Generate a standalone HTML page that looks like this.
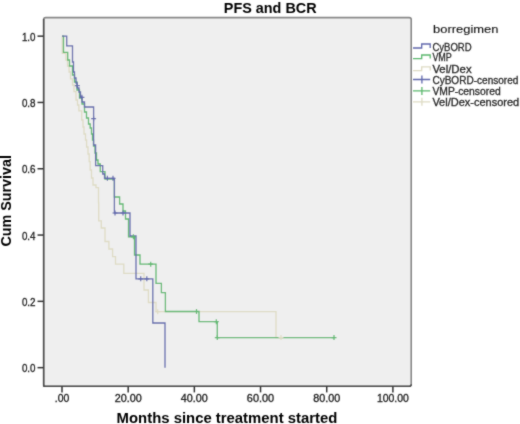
<!DOCTYPE html>
<html><head><meta charset="utf-8">
<style>
html,body{margin:0;padding:0;background:#fff;}
body{width:520px;height:424px;overflow:hidden;position:relative;}
svg{position:absolute;left:0;top:0;}
text{font-family:"Liberation Sans",sans-serif;}
</style></head><body>
<svg width="520" height="424" viewBox="0 0 520 424">
<defs><filter id="soft" x="0" y="0" width="520" height="424" filterUnits="userSpaceOnUse"><feConvolveMatrix order="3" kernelMatrix="1 3 1 3 20 3 1 3 1" divisor="36" edgeMode="duplicate" preserveAlpha="false"/></filter></defs>
<rect width="520" height="424" fill="#fff"/>
<g filter="url(#soft)">
<rect x="43.7" y="17.6" width="367.5" height="368.6" rx="2" fill="#efefef" stroke="#858585" stroke-width="1.6"/>
<path d="M43.7,19 V386.2 H409.2 Q411.2,386.2 411.2,384.2" fill="none" stroke="#4c4c4c" stroke-width="1.6" stroke-linejoin="round"/>
<text x="223.8" y="12.6" font-size="15" font-weight="bold" fill="#000" textLength="92.8" lengthAdjust="spacingAndGlyphs">PFS and BCR</text>
<g stroke="#333" stroke-width="1.5"><line x1="37.5" y1="36.15" x2="43.6" y2="36.15"/><line x1="37.5" y1="102.45" x2="43.6" y2="102.45"/><line x1="37.5" y1="168.75" x2="43.6" y2="168.75"/><line x1="37.5" y1="235.05" x2="43.6" y2="235.05"/><line x1="37.5" y1="301.35" x2="43.6" y2="301.35"/><line x1="37.5" y1="367.65" x2="43.6" y2="367.65"/><line x1="62.00" y1="386" x2="62.00" y2="392.4"/><line x1="128.18" y1="386" x2="128.18" y2="392.4"/><line x1="194.36" y1="386" x2="194.36" y2="392.4"/><line x1="260.54" y1="386" x2="260.54" y2="392.4"/><line x1="326.72" y1="386" x2="326.72" y2="392.4"/><line x1="392.90" y1="386" x2="392.90" y2="392.4"/></g>
<g font-size="10" fill="#222" stroke="#222" stroke-width="0.3"><text x="21.9" y="40.85" textLength="13.6" lengthAdjust="spacingAndGlyphs">1.0</text><text x="21.9" y="107.15" textLength="13.6" lengthAdjust="spacingAndGlyphs">0.8</text><text x="21.9" y="173.45" textLength="13.6" lengthAdjust="spacingAndGlyphs">0.6</text><text x="21.9" y="239.75" textLength="13.6" lengthAdjust="spacingAndGlyphs">0.4</text><text x="21.9" y="306.05" textLength="13.6" lengthAdjust="spacingAndGlyphs">0.2</text><text x="21.9" y="372.35" textLength="13.6" lengthAdjust="spacingAndGlyphs">0.0</text></g>
<g font-size="10" fill="#222" stroke="#222" stroke-width="0.3"><text x="54.75" y="401.5" textLength="14.5" lengthAdjust="spacingAndGlyphs">.00</text><text x="114.68" y="401.5" textLength="27" lengthAdjust="spacingAndGlyphs">20.00</text><text x="180.86" y="401.5" textLength="27" lengthAdjust="spacingAndGlyphs">40.00</text><text x="246.89" y="401.5" textLength="27.3" lengthAdjust="spacingAndGlyphs">60.00</text><text x="313.22" y="401.5" textLength="27" lengthAdjust="spacingAndGlyphs">80.00</text><text x="376.90" y="401.5" textLength="32" lengthAdjust="spacingAndGlyphs">100.00</text></g>
<text x="116.6" y="422.7" font-size="14.5" font-weight="bold" fill="#000" textLength="220.8" lengthAdjust="spacingAndGlyphs">Months since treatment started</text>
<text transform="translate(11.3,246.6) rotate(-90)" font-size="14" font-weight="bold" fill="#000" textLength="91.6" lengthAdjust="spacingAndGlyphs">Cum Survival</text>
<g fill="none" stroke-width="1.3">
<path stroke="#dedbc4" d="M62,36.15 H62.3 V53.4 H65.9 V60 H67.5 V66 H69.1 V72 H70.5 V78.8 H72.5 V85 H74 V91.6 H76 V100 H77.5 V105 H78.9 V110.8 H81.7 V120 H83 V127 H84 V134 H85.5 V140 H86.6 V147 H88 V154 H89.2 V161.7 H90.2 V170 H91.5 V178 H93 V185 H96 V187.7 H98.5 V202.8 H98.7 V220.8 H101.3 V228 H105 V241.5 H108.9 V249 H112.6 V256.6 H115.5 V264.2 H123.8 V273.4 H144 V290 H148.4 V302.5 H156 V311.7 H276 V337.6 H283.4"/>
<path stroke="#5cb86e" d="M62,36.15 H63.5 V52.3 H67.7 V60 H69.5 V66 H72.5 V75 H74.5 V82 H77 V90 H79.5 V98 H82 V104 H84.5 V112 H86.5 V118 H88.5 V124 H90.2 V128 H91.5 V134 H92.5 V140 H93.5 V146 H95 V153 H96.5 V160 H98 V164 H100.3 V171.6 H105 V179.2 H114.4 V197 H119.6 V204 H123 V211 H125.5 V219 H128.5 V236.8 H134.5 V255 H140 V264.2 H156 V283.4 H161.4 V292.6 H165.4 V311.5 H199 V321.7 H217.3 V337.6 H334"/>
<path stroke="#6068ac" d="M62,36.15 H66.7 V45.9 H72.5 V62 H73.5 V72 H74.5 V78 H76 V83 H77.3 V88 H79 V92 H80.5 V97 H82 V102 H84.5 V107 H93.6 V145 H95.6 V165.7 H102.7 V174 H104.5 V178.3 H114.4 V213 H130 V236 H136 V278.8 H152.8 V323 H165 V367.65"/>
</g>
<g fill="none" stroke-width="1.2"><path stroke="#6068ac" d="M77.3,83.1 v5.0 M74.8,85.6 h5.0"/><path stroke="#6068ac" d="M81.9,94.8 v5.0 M79.4,97.3 h5.0"/><path stroke="#6068ac" d="M93.6,116.2 v5.0 M91.1,118.7 h5.0"/><path stroke="#6068ac" d="M107.4,175.8 v5.0 M104.9,178.3 h5.0"/><path stroke="#6068ac" d="M113,175.8 v5.0 M110.5,178.3 h5.0"/><path stroke="#6068ac" d="M115,210.5 v5.0 M112.5,213 h5.0"/><path stroke="#6068ac" d="M123,210.5 v5.0 M120.5,213 h5.0"/><path stroke="#6068ac" d="M140.7,276.3 v5.0 M138.2,278.8 h5.0"/><path stroke="#6068ac" d="M146.8,276.3 v5.0 M144.3,278.8 h5.0"/><path stroke="#5cb86e" d="M133.4,234.3 v5.0 M130.9,236.8 h5.0"/><path stroke="#5cb86e" d="M150.7,261.7 v5.0 M148.2,264.2 h5.0"/><path stroke="#5cb86e" d="M196.5,309.0 v5.0 M194.0,311.5 h5.0"/><path stroke="#5cb86e" d="M216.3,319.2 v5.0 M213.8,321.7 h5.0"/><path stroke="#5cb86e" d="M217.3,335.1 v5.0 M214.8,337.6 h5.0"/><path stroke="#5cb86e" d="M334,335.1 v5.0 M331.5,337.6 h5.0"/><path stroke="#dedbc4" d="M157.7,309.2 v5.0 M155.2,311.7 h5.0"/><path stroke="#dedbc4" d="M281,335.1 v5.0 M278.5,337.6 h5.0"/></g>
<text x="433.1" y="33.1" font-size="11.5" fill="#111" stroke="#111" stroke-width="0.12" textLength="65.4" lengthAdjust="spacingAndGlyphs">borregimen</text>
<g fill="none" stroke-width="1.3">
<path stroke="#6068ac" d="M413,48 H421.7 V44 H430.2 V48"/>
<path stroke="#5cb86e" d="M413,58.6 H421.7 V55 H430.2 V58.6"/>
<path stroke="#dedbc4" d="M413,70.6 H421.7 V66.8 H430.2 V70.6"/>
<path stroke="#6068ac" d="M413,79.5 H430.2 M421.9,75.5 V83.5"/>
<path stroke="#5cb86e" d="M413,90.8 H430.2 M421.9,87 V95"/>
<path stroke="#dedbc4" d="M413,101.8 H430.2 M421.9,97.7 V105.8"/>
</g>
<g font-size="10" fill="#2a2a2a" stroke="#2a2a2a" stroke-width="0.3"><text x="432.4" y="50.7" textLength="39.2" lengthAdjust="spacingAndGlyphs">CyBORD</text><text x="432.4" y="61.4" textLength="19.4" lengthAdjust="spacingAndGlyphs">VMP</text><text x="432.4" y="72.5" textLength="39.2" lengthAdjust="spacingAndGlyphs">Vel/Dex</text><text x="432.4" y="83.6" textLength="86" lengthAdjust="spacingAndGlyphs">CyBORD-censored</text><text x="432.4" y="94.8" textLength="68.3" lengthAdjust="spacingAndGlyphs">VMP-censored</text><text x="432.4" y="105.6" textLength="86.8" lengthAdjust="spacingAndGlyphs">Vel/Dex-censored</text></g>
</g>
</svg>
</body></html>
